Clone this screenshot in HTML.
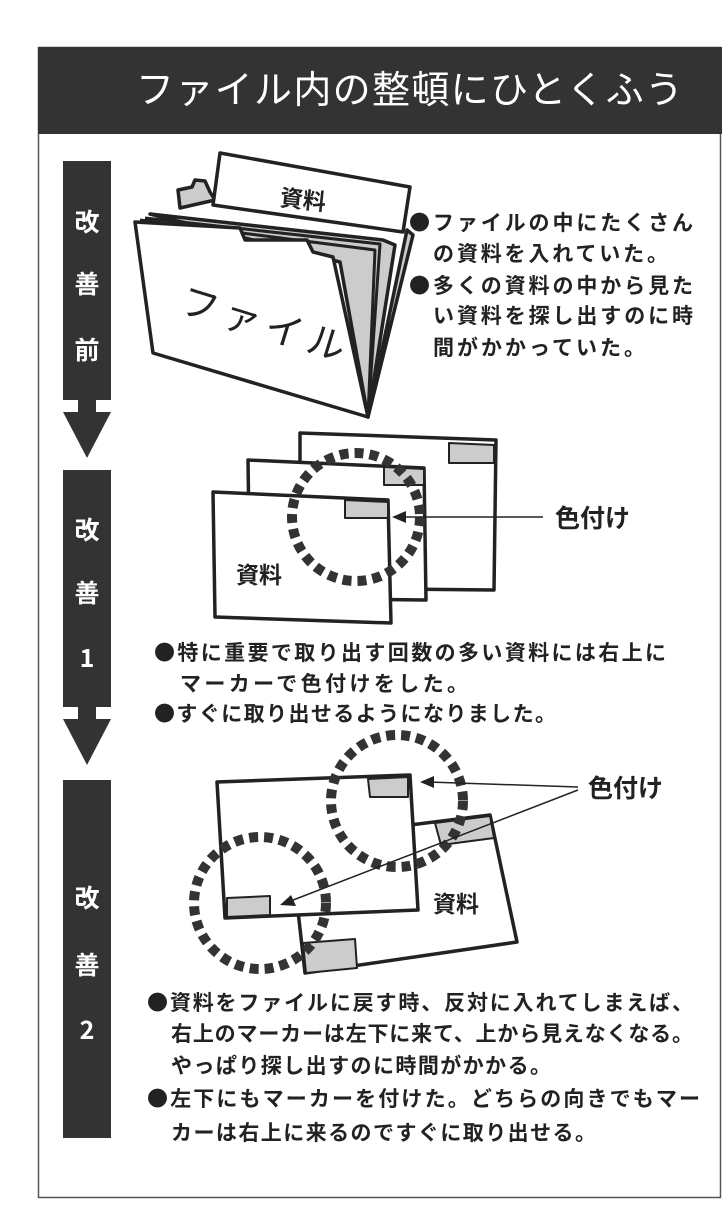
<!DOCTYPE html>
<html><head><meta charset="utf-8"><style>
html,body{margin:0;padding:0;background:#fff;}
body{width:722px;height:1210px;overflow:hidden;}
svg{display:block;}
text{font-family:"Noto Sans CJK JP","Liberation Sans",sans-serif;}
.b{font-weight:bold;}
</style></head><body>
<svg width="722" height="1210" viewBox="0 0 722 1210" xmlns="http://www.w3.org/2000/svg">
<rect x="38.5" y="47.5" width="682" height="1150" fill="#fff" stroke="#555" stroke-width="1.5"/>
<rect x="38" y="47" width="684" height="87" fill="#333"/>
<text x="136" y="103" font-size="38" fill="#fff" textLength="547" lengthAdjust="spacing">ファイル内の整頓にひとくふう</text>

<g fill="#333">
<rect x="63" y="161" width="48" height="239"/>
<rect x="78" y="398" width="18" height="16"/>
<polygon points="63,412 111,412 87,458"/>
<rect x="63" y="470" width="48" height="237"/>
<rect x="78" y="705" width="18" height="16"/>
<polygon points="63,719 111,719 87,765"/>
<rect x="63" y="780" width="48" height="358"/>
</g>
<g fill="#fff" font-size="25" text-anchor="middle" class="b">
<text x="87" y="231">改</text><text x="87" y="293">善</text><text x="87" y="359">前</text>
<text x="87" y="539">改</text><text x="87" y="602">善</text><text x="87" y="667" font-family="Liberation Sans">1</text>
<text x="87" y="907">改</text><text x="87" y="974">善</text><text x="87" y="1039" font-family="Liberation Sans">2</text>
</g>

<g stroke="#222" stroke-width="3.5" stroke-linejoin="round">
<polygon points="178,190 192,187 195,180 205,181 210,192 215,200 180,208" fill="#ccc"/>
<polygon points="220,153 410,187 403,232 213,205" fill="#fff"/>
<polygon points="407,230 413,235 368,417" fill="#ccc"/>
<polygon points="150,214 383,240 395,245 368,417 340,262" fill="#ccc"/>
<polyline points="145,218 380,244 368,417" fill="none" stroke-width="3"/>
<polyline points="140,220 375,250 368,417" fill="none" stroke-width="3"/>
<polygon points="135,222 240,228 245,240 307,240 313,252 333,257 368,417 153,353" fill="#fff"/>
</g>
<text x="303" y="208" font-size="23" fill="#222" text-anchor="middle" transform="rotate(6 303 200)" class="b">資料</text>
<text x="178" y="312" font-size="38" fill="#222" transform="rotate(17 178 312)" textLength="170" lengthAdjust="spacing">ファイル</text>

<g font-size="21" fill="#222" class="b">
<text x="409" y="230" textLength="284" lengthAdjust="spacing">●ファイルの中にたくさん</text>
<text x="433" y="261" textLength="235" lengthAdjust="spacing">の資料を入れていた。</text>
<text x="409" y="293" textLength="284" lengthAdjust="spacing">●多くの資料の中から見た</text>
<text x="433" y="323" textLength="260" lengthAdjust="spacing">い資料を探し出すのに時</text>
<text x="433" y="355" textLength="212" lengthAdjust="spacing">間がかかっていた。</text>
</g>

<g stroke="#222" stroke-width="3.5" stroke-linejoin="round">
<polygon points="300,433 496,440 494,590 300,588" fill="#fff"/>
<polygon points="449,443 494,445 494,463 449,463" fill="#ccc" stroke-width="2"/>
<polygon points="248,460 424,468 426,600 250,598" fill="#fff"/>
<polygon points="384,467 424,469 424,485 384,485" fill="#ccc" stroke-width="2"/>
<polygon points="213,492 388,500 391,623 215,617" fill="#fff"/>
<polygon points="345,500 388,502 388,518 345,518" fill="#ccc" stroke-width="2"/>
</g>
<circle cx="356" cy="517" r="64" fill="none" stroke="#333" stroke-width="10" stroke-dasharray="9 6"/>
<line x1="543" y1="517" x2="400" y2="517" stroke="#222" stroke-width="1.5"/>
<polygon points="392,517 406,511 406,523" fill="#222"/>
<text x="555" y="527" font-size="25" fill="#222" class="b">色付け</text>
<text x="236" y="583" font-size="23" fill="#222" class="b">資料</text>

<g font-size="21" fill="#222" class="b">
<text x="154" y="660" textLength="512" lengthAdjust="spacing">●特に重要で取り出す回数の多い資料には右上に</text>
<text x="180" y="691" textLength="288" lengthAdjust="spacing">マーカーで色付けをした。</text>
<text x="154" y="721" textLength="402" lengthAdjust="spacing">●すぐに取り出せるようになりました。</text>
</g>

<g stroke="#222" stroke-width="3.5" stroke-linejoin="round">
<polygon points="290,840 490,815 517,942 305,973" fill="#fff"/>
<polygon points="435,823 490,816 494,838 441,845" fill="#ccc" stroke-width="2"/>
<polygon points="303,943 355,939 357,968 306,973" fill="#ccc" stroke-width="2"/>
<polygon points="217,782 410,775 418,910 225,918" fill="#fff"/>
<polygon points="368,779 408,777 408,797 370,797" fill="#ccc" stroke-width="2"/>
<polygon points="227,898 270,896 270,915 227,917" fill="#ccc" stroke-width="2"/>
</g>
<circle cx="397" cy="801" r="66" fill="none" stroke="#333" stroke-width="10" stroke-dasharray="9 6"/>
<circle cx="260" cy="903" r="66" fill="none" stroke="#333" stroke-width="10" stroke-dasharray="9 6"/>
<line x1="578" y1="787" x2="428" y2="782" stroke="#222" stroke-width="1.5"/>
<polygon points="420,782 434,776 434,788" fill="#222"/>
<line x1="578" y1="790" x2="288" y2="902" stroke="#222" stroke-width="1.5"/>
<polygon points="280,905 291,895 296,906" fill="#222"/>
<text x="588" y="797" font-size="25" fill="#222" class="b">色付け</text>
<text x="433" y="912" font-size="23" fill="#222" class="b">資料</text>

<g font-size="21" fill="#222" class="b">
<text x="147" y="1010" textLength="546" lengthAdjust="spacing">●資料をファイルに戻す時、反対に入れてしまえば、</text>
<text x="171" y="1041" textLength="522" lengthAdjust="spacing">右上のマーカーは左下に来て、上から見えなくなる。</text>
<text x="171" y="1073" textLength="380" lengthAdjust="spacing">やっぱり探し出すのに時間がかかる。</text>
<text x="147" y="1106" textLength="553" lengthAdjust="spacing">●左下にもマーカーを付けた。どちらの向きでもマー</text>
<text x="171" y="1140" textLength="425" lengthAdjust="spacing">カーは右上に来るのですぐに取り出せる。</text>
</g>
</svg>
</body></html>
